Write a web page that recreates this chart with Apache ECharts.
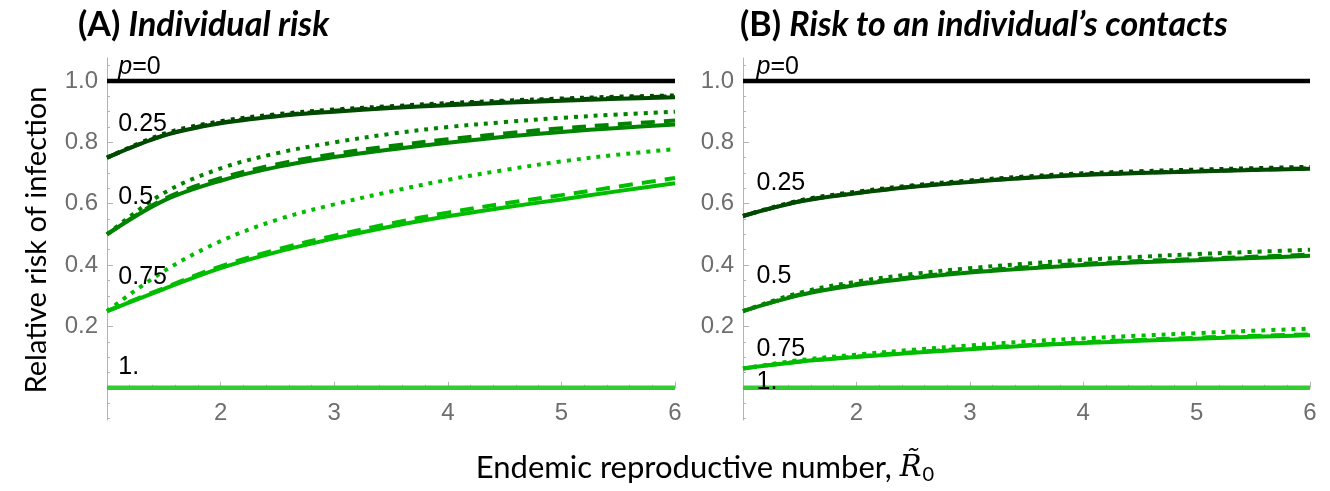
<!DOCTYPE html>
<html>
<head>
<meta charset="utf-8">
<script src="https://cdn.jsdelivr.net/npm/echarts@6/dist/echarts.min.js"></script>
<style>
html,body{margin:0;padding:0;background:#fff;}
#c{width:1330px;height:491px;}
</style>
</head>
<body>
<div id="c"></div>
<script>
// ---------- data ----------
const R0 = [1, 1.5, 2, 2.5, 3, 3.5, 4, 4.5, 5, 5.5, 6];

const xTickLabels = [2, 3, 4, 5, 6];
const yTickLabels = [0.2, 0.4, 0.6, 0.8, 1.0];
const xMinorTicks = [1.2,1.4,1.6,1.8,2.2,2.4,2.6,2.8,3.2,3.4,3.6,3.8,4.2,4.4,4.6,4.8,5.2,5.4,5.6,5.8];
const xMajorTicks = [2, 3, 4, 5, 6];
const yMinorTicks = [-0.1,-0.05,0.05,0.1,0.15,0.25,0.3,0.35,0.45,0.5,0.55,0.65,0.7,0.75,0.85,0.9,0.95,1.05];
const yMajorTicks = [0.2, 0.4, 0.6, 0.8, 1.0];

const pValues = ['p=0', '0.25', '0.5', '0.75', '1.'];

// Panel A: individual risk
const A_p0   = [1,1,1,1,1,1,1,1,1,1,1];
const A_p025_solid  = [0.750, 0.822, 0.862, 0.885, 0.900, 0.912, 0.921, 0.929, 0.936, 0.942, 0.947];
const A_p025_dashed = [0.750, 0.823, 0.864, 0.887, 0.903, 0.914, 0.924, 0.932, 0.939, 0.945, 0.950];
const A_p025_dotted = [0.750, 0.828, 0.869, 0.892, 0.907, 0.918, 0.928, 0.936, 0.943, 0.949, 0.953];
const A_p05_solid   = [0.500, 0.610, 0.675, 0.720, 0.752, 0.777, 0.799, 0.818, 0.834, 0.847, 0.858];
const A_p05_dashed  = [0.500, 0.615, 0.683, 0.729, 0.762, 0.788, 0.810, 0.829, 0.846, 0.859, 0.871];
const A_p05_dotted  = [0.500, 0.635, 0.715, 0.765, 0.800, 0.828, 0.850, 0.866, 0.880, 0.891, 0.900];
const A_p075_solid  = [0.250, 0.322, 0.390, 0.443, 0.487, 0.526, 0.559, 0.588, 0.614, 0.641, 0.667];
const A_p075_dashed = [0.250, 0.325, 0.396, 0.451, 0.496, 0.536, 0.571, 0.601, 0.628, 0.656, 0.684];
const A_p075_dotted = [0.250, 0.380, 0.478, 0.548, 0.598, 0.640, 0.678, 0.710, 0.738, 0.760, 0.778];
const A_p1   = [0,0,0,0,0,0,0,0,0,0,0];

// Panel B: risk to an individual's contacts
const B_p0   = [1,1,1,1,1,1,1,1,1,1,1];
const B_p025_solid  = [0.560, 0.607, 0.634, 0.655, 0.671, 0.684, 0.694, 0.700, 0.705, 0.710, 0.714];
const B_p025_dashed = [0.560, 0.608, 0.635, 0.656, 0.672, 0.685, 0.695, 0.701, 0.706, 0.711, 0.715];
const B_p025_dotted = [0.560, 0.611, 0.639, 0.660, 0.676, 0.689, 0.699, 0.706, 0.711, 0.716, 0.720];
const B_p05_solid   = [0.250, 0.302, 0.335, 0.358, 0.376, 0.389, 0.400, 0.409, 0.416, 0.423, 0.430];
const B_p05_dashed  = [0.250, 0.304, 0.338, 0.361, 0.379, 0.393, 0.404, 0.413, 0.420, 0.427, 0.434];
const B_p05_dotted  = [0.250, 0.310, 0.346, 0.371, 0.390, 0.405, 0.417, 0.427, 0.436, 0.443, 0.450];
const B_p075_solid  = [0.063, 0.085, 0.100, 0.114, 0.126, 0.137, 0.146, 0.153, 0.160, 0.166, 0.171];
const B_p075_dashed = [0.063, 0.086, 0.102, 0.116, 0.128, 0.139, 0.148, 0.156, 0.163, 0.169, 0.174];
const B_p075_dotted = [0.063, 0.090, 0.108, 0.124, 0.138, 0.151, 0.161, 0.170, 0.178, 0.186, 0.193];
const B_p1   = [0,0,0,0,0,0,0,0,0,0,0];

// curve label anchor positions (data coords)
const A_labelX = [1.1, 1.1, 1.1, 1.1, 1.1];
const A_labelY = [1.044, 0.861, 0.623, 0.362, 0.069];
const B_labelX = [1.12, 1.12, 1.12, 1.12, 1.12];
const B_labelY = [1.044, 0.666, 0.365, 0.127, 0.02];

// ---------- styling ----------
const C0 = '#000000', C25 = '#004a00', C50 = '#008400', C75 = '#00bd00', C100 = '#33cc33';
const DASH = [14, 9], DOT = [4, 6];
const axisGray = '#b3b3b3';
const labelGray = '#6e6e6e';
const Y_MIN = -0.105, Y_MAX = 1.075;

function pts(arr){ return R0.map((x,i)=>[x, arr[i]]); }
function ln(g, arr, color, type, w){
  return {
    type:'line', xAxisIndex: g, yAxisIndex: g*2, data: pts(arr),
    showSymbol:false, symbol:'none', smooth:0.35,
    lineStyle:{color:color, width: w||4, type:type, cap:'butt'},
    z: 3, silent:true, animation:false
  };
}
function labels(g, xs, ys){
  return {
    type:'scatter', xAxisIndex: g, yAxisIndex: g*2, symbolSize:0, silent:true, z:5,
    itemStyle:{opacity:1, color:'#000'},
    data: pValues.map((t,i)=>({value:[xs[i], ys[i]], name:t})),
    label:{show:true, position:'right', distance:0, align:'left', verticalAlign:'middle',
      color:'#000000', opacity:1, fontFamily:'Liberation Sans', fontSize:25,
      formatter: p => p.name === 'p=0' ? '{i|p}{n|=0}' : '{n|' + p.name + '}',
      rich:{i:{fontStyle:'italic', fontFamily:'Liberation Sans', fontSize:25, color:'#000000'},
            n:{fontFamily:'Liberation Sans', fontSize:25, color:'#000000'}}
    },
    animation:false
  };
}

// data x-axes (hidden), one per panel grid
function dataXAxis(g){
  return {gridIndex:g, type:'value', min:1, max:6, show:false};
}
// visible x-axes on the axis-only grids whose bottom is at y=0
function visXAxes(g){
  const base = {gridIndex:g, type:'value', min:1, max:6, position:'bottom', splitLine:{show:false}};
  return [
    Object.assign({}, base, {
      axisLine:{show:true, onZero:false, lineStyle:{color:axisGray, width:1}},
      axisTick:{show:true, inside:true, length:3, customValues:xMinorTicks, lineStyle:{color:axisGray}},
      axisLabel:{show:true, customValues:xTickLabels, color:labelGray, fontSize:24,
        fontFamily:'Liberation Sans', margin:14, formatter: v => String(Math.round(v))}
    }),
    Object.assign({}, base, {
      axisLine:{show:false, onZero:false},
      axisTick:{show:true, inside:true, length:6, customValues:xMajorTicks, lineStyle:{color:axisGray}},
      axisLabel:{show:false}
    })
  ];
}
function yAxes(g){
  const base = {gridIndex:g, type:'value', min:Y_MIN, max:Y_MAX, position:'left', splitLine:{show:false}};
  return [
    Object.assign({}, base, {
      axisLine:{show:true, onZero:false, lineStyle:{color:axisGray, width:1}},
      axisTick:{show:true, inside:true, length:3, customValues:yMinorTicks, lineStyle:{color:axisGray}},
      axisLabel:{show:true, customValues:yTickLabels, color:labelGray, fontSize:24,
        fontFamily:'Liberation Sans', margin:9, formatter: v => v.toFixed(1)}
    }),
    Object.assign({}, base, {
      axisLine:{show:false, onZero:false},
      axisTick:{show:true, inside:true, length:6, customValues:yMajorTicks, lineStyle:{color:axisGray}},
      axisLabel:{show:false}
    })
  ];
}
function dummyY(g){ return {gridIndex:g, type:'value', min:0, max:1, show:false}; }

function panel(g, d){
  return [
    ln(g, d.p0, C0, 'solid', 4.5),
    ln(g, d.s25, C25, 'solid'), ln(g, d.d25, C25, DASH), ln(g, d.o25, C25, DOT),
    ln(g, d.s50, C50, 'solid'), ln(g, d.d50, C50, DASH), ln(g, d.o50, C50, DOT),
    ln(g, d.s75, C75, 'solid'), ln(g, d.d75, C75, DASH), ln(g, d.o75, C75, DOT),
    ln(g, d.p1, C100, 'solid', 4.5)
  ];
}

const series = [].concat(
  panel(0, {p0:A_p0, s25:A_p025_solid, d25:A_p025_dashed, o25:A_p025_dotted,
            s50:A_p05_solid, d50:A_p05_dashed, o50:A_p05_dotted,
            s75:A_p075_solid, d75:A_p075_dashed, o75:A_p075_dotted, p1:A_p1}),
  panel(1, {p0:B_p0, s25:B_p025_solid, d25:B_p025_dashed, o25:B_p025_dotted,
            s50:B_p05_solid, d50:B_p05_dashed, o50:B_p05_dotted,
            s75:B_p075_solid, d75:B_p075_dashed, o75:B_p075_dotted, p1:B_p1}),
  [labels(0, A_labelX, A_labelY), labels(1, B_labelX, B_labelY)]
);

// layout
const TOP = 58, H = 362;
const zeroPx = TOP + H * (Y_MAX - 0) / (Y_MAX - Y_MIN);
const titleFont = 'Lato';
const option = {
  backgroundColor:'#ffffff',
  animation:false,
  grid:[
    {left:107, top:TOP, width:568, height:H},
    {left:743, top:TOP, width:567, height:H},
    {left:107, top:TOP, width:568, height:zeroPx - TOP},
    {left:743, top:TOP, width:567, height:zeroPx - TOP}
  ],
  xAxis: [dataXAxis(0), dataXAxis(1)].concat(visXAxes(2), visXAxes(3)),
  yAxis: yAxes(0).concat(yAxes(1), [dummyY(2), dummyY(3)]),
  title:[
    {left:73, top:3, text:'{a|(A) }{b|Individual risk}',
      textStyle:{rich:{a:{fontFamily:titleFont, fontWeight:'bold', fontSize:34, color:'#000'},
                       b:{fontFamily:titleFont, fontWeight:'bold', fontStyle:'italic', fontSize:34, color:'#000'}}}},
    {left:735, top:3, text:'{a|(B) }{b|Risk to an individual\u2019s contacts}',
      textStyle:{rich:{a:{fontFamily:titleFont, fontWeight:'bold', fontSize:34, color:'#000'},
                       b:{fontFamily:titleFont, fontWeight:'bold', fontStyle:'italic', fontSize:34, color:'#000'}}}}
  ],
  graphic:[
    {type:'text', x:37, y:240, rotation:Math.PI/2,
      style:{text:'Relative risk of infection', fontFamily:titleFont, fontSize:29, fill:'#000',
        align:'center', verticalAlign:'middle'}},
    {type:'text', x:705, y:468,
      style:{text:'{a|Endemic reproductive number, }{r|R\u0303}{s|0}', align:'center', verticalAlign:'middle',
        rich:{a:{fontFamily:titleFont, fontSize:31, color:'#000'},
              r:{fontFamily:'DejaVu Serif', fontStyle:'italic', fontSize:29, color:'#000'},
              s:{fontFamily:titleFont, fontSize:20, color:'#000', padding:[13,0,0,1]}}}}
  ],
  series: series
};

const chart = echarts.init(document.getElementById('c'), null, {renderer:'canvas'});
chart.setOption(option);
</script>
</body>
</html>
